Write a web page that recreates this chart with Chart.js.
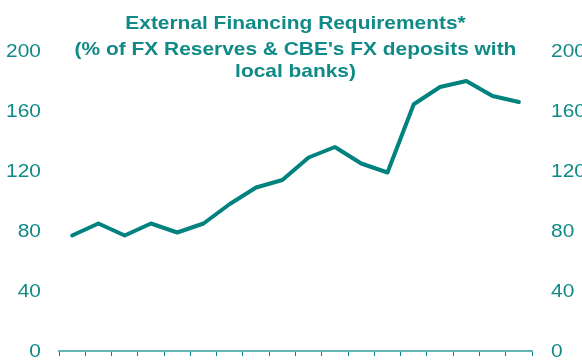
<!DOCTYPE html>
<html>
<head>
<meta charset="utf-8">
<script src="https://cdn.jsdelivr.net/npm/chart.js@4"></script>
<style>
  html, body { margin: 0; padding: 0; background: #ffffff; }
  #wrap { width: 582px; height: 363px; position: relative; }
</style>
</head>
<body>
<div id="wrap"><canvas id="chart" width="582" height="363"></canvas></div>
<script>
// Periods on the horizontal axis (not labelled on the chart)
const periods = ["1", "2", "3", "4", "5", "6", "7", "8", "9", "10", "11", "12", "13", "14", "15", "16", "17", "18"];
// External financing requirements, % of FX reserves & CBE's FX deposits with local banks
const efrValues = [77, 85, 77, 85, 79, 85, 98, 109, 114, 129, 136, 125, 119, 164.5, 176, 180, 170, 166];
// Value axis ticks
const yTicks = [0, 40, 80, 120, 160, 200];
const titleLines = ["External Financing Requirements*", "(% of FX Reserves & CBE's FX deposits with", "local banks)"];

const TEAL = "#00827e";
const TEXT_TEAL = "#0f8a86";
const AXIS_TEAL = "#62b5b0";
const FONT_FAMILY = "'Liberation Sans', Arial, sans-serif";
const WIDEN = 1.13; // horizontal text stretch

function wideText(ctx, text, x, y, align) {
  ctx.save();
  ctx.translate(x, y);
  ctx.scale(WIDEN, 1);
  ctx.textAlign = align;
  ctx.fillText(text, 0, 0);
  ctx.restore();
}

// Title over the plot area and value labels on both sides
const textPlugin = {
  id: "chartText",
  afterDraw(chart) {
    const ctx = chart.ctx;
    const area = chart.chartArea;
    const cx = (area.left + area.right) / 2;
    ctx.save();
    ctx.fillStyle = TEXT_TEAL;

    ctx.font = "bold 18.5px " + FONT_FAMILY;
    ctx.textBaseline = "alphabetic";
    const baselines = [28.5, 54.5, 77];
    titleLines.forEach((t, i) => wideText(ctx, t, cx, baselines[i], "center"));

    ctx.font = "18.5px " + FONT_FAMILY;
    ctx.textBaseline = "middle";
    const left = chart.scales.y;
    const right = chart.scales.y2;
    left.ticks.forEach(t => wideText(ctx, String(t.value), left.right - 18, left.getPixelForValue(t.value) + 0.5, "right"));
    right.ticks.forEach(t => wideText(ctx, String(t.value), right.left + 19, right.getPixelForValue(t.value) + 0.5, "left"));
    ctx.restore();
  }
};

new Chart(document.getElementById("chart"), {
  type: "line",
  data: {
    labels: periods,
    datasets: [{
      data: efrValues,
      borderColor: TEAL,
      borderWidth: 4,
      pointRadius: 0,
      tension: 0,
      borderJoinStyle: "round",
      borderCapStyle: "round",
      fill: false
    }]
  },
  options: {
    responsive: false,
    animation: false,
    layout: { padding: { top: 51, left: 0, right: 0, bottom: 0 } },
    plugins: { legend: { display: false }, tooltip: { enabled: false }, title: { display: false } },
    scales: {
      x: {
        type: "category",
        offset: true,
        grid: { display: true, drawOnChartArea: false, offset: true, tickLength: 5, color: TEAL, lineWidth: 1 },
        border: { display: true, color: AXIS_TEAL, width: 2 },
        ticks: { display: false },
        afterFit(scale) { scale.height = 12; }
      },
      y: {
        position: "left",
        min: 0, max: 200,
        afterBuildTicks(scale) { scale.ticks = yTicks.map(v => ({ value: v })); },
        grid: { display: false, drawTicks: false },
        border: { display: false },
        ticks: { display: false },
        afterFit(scale) { scale.width = 59; }
      },
      y2: {
        position: "right",
        min: 0, max: 200,
        afterBuildTicks(scale) { scale.ticks = yTicks.map(v => ({ value: v })); },
        grid: { display: false, drawTicks: false },
        border: { display: false },
        ticks: { display: false },
        afterFit(scale) { scale.width = 50; }
      }
    }
  },
  plugins: [textPlugin]
});
</script>
</body>
</html>
